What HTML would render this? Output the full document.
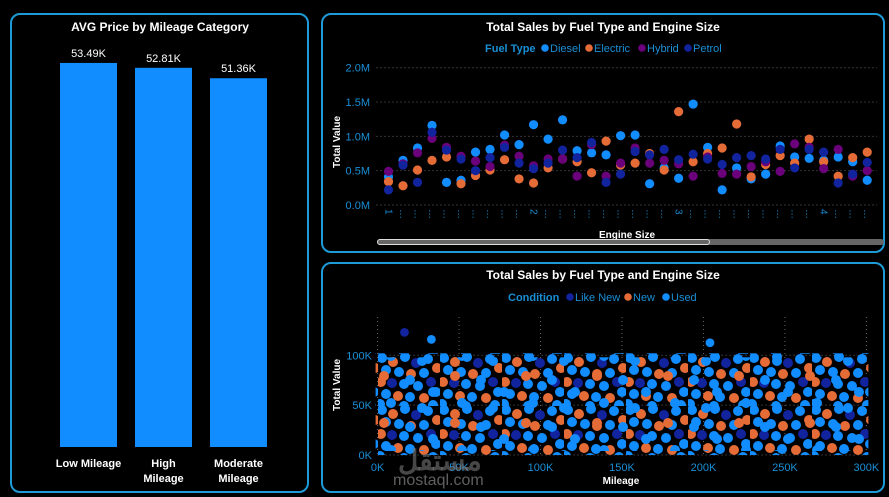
<!DOCTYPE html>
<html><head><meta charset="utf-8"><style>
html,body{margin:0;padding:0;background:#000;}
svg{display:block;font-family:"Liberation Sans","Noto Sans CJK SC",sans-serif;}
</style></head><body>
<svg id="root" width="889" height="497" viewBox="0 0 889 497">
<defs>
<pattern id="cloud" x="378" y="354" width="62" height="52" patternUnits="userSpaceOnUse">
<circle cx="4" cy="4" r="5" fill="#118DFF"/><circle cx="15" cy="8" r="5" fill="#E66C37"/>
<circle cx="27" cy="3" r="5" fill="#118DFF"/><circle cx="38" cy="9" r="5" fill="#12239E"/>
<circle cx="50" cy="5" r="5" fill="#118DFF"/><circle cx="59" cy="14" r="5" fill="#E66C37"/>
<circle cx="8" cy="16" r="5" fill="#118DFF"/><circle cx="21" cy="18" r="5" fill="#118DFF"/>
<circle cx="33" cy="20" r="5" fill="#E66C37"/><circle cx="46" cy="19" r="5" fill="#118DFF"/>
<circle cx="3" cy="28" r="5" fill="#E66C37"/><circle cx="14" cy="29" r="5" fill="#12239E"/>
<circle cx="26" cy="30" r="5" fill="#118DFF"/><circle cx="40" cy="32" r="5" fill="#118DFF"/>
<circle cx="53" cy="28" r="5" fill="#12239E"/><circle cx="58" cy="38" r="5" fill="#118DFF"/>
<circle cx="8" cy="40" r="5" fill="#118DFF"/><circle cx="20" cy="42" r="5" fill="#E66C37"/>
<circle cx="32" cy="43" r="5" fill="#118DFF"/><circle cx="46" cy="44" r="5" fill="#E66C37"/>
<circle cx="2" cy="50" r="5" fill="#118DFF"/><circle cx="26" cy="52" r="5" fill="#118DFF"/>
<circle cx="55" cy="51" r="5" fill="#118DFF"/>
</pattern>
<pattern id="cloud2" x="400" y="370" width="71" height="47" patternUnits="userSpaceOnUse">
<circle cx="10" cy="10" r="5" fill="#118DFF"/><circle cx="33" cy="22" r="5" fill="#118DFF"/>
<circle cx="55" cy="6" r="5" fill="#E66C37"/><circle cx="22" cy="38" r="5" fill="#118DFF"/>
<circle cx="62" cy="33" r="5" fill="#118DFF"/>
</pattern>
</defs>
<g id="panels">
<rect x="11" y="14" width="297" height="478" rx="9" fill="#000" stroke="#1E9BD7" stroke-width="2"/>
<rect x="322" y="14" width="562" height="238" rx="9" fill="#000" stroke="#1E9BD7" stroke-width="2"/>
<rect x="322" y="263" width="562" height="229" rx="9" fill="#000" stroke="#1E9BD7" stroke-width="2"/>
</g>
<text x="160" y="31" fill="#fff" font-size="12" font-weight="bold" text-anchor="middle">AVG Price by Mileage Category</text>
<g id="bars"></g>
<text x="603" y="31" fill="#fff" font-size="12" font-weight="bold" text-anchor="middle">Total Sales by Fuel Type and Engine Size</text>
<g id="legend1"></g>
<g id="scatter1"></g>
<text x="603" y="279" fill="#fff" font-size="12" font-weight="bold" text-anchor="middle">Total Sales by Fuel Type and Engine Size</text>
<g id="legend2"></g>
<g id="scatter2"></g>
<text x="398" y="470" fill="#777" fill-opacity="0.6" font-size="28" font-weight="bold">مستقل</text>
<text x="393" y="485" fill="#888" fill-opacity="0.7" font-size="16">mostaql.com</text>
</svg>
<script>
const NS='http://www.w3.org/2000/svg';
function mk(tag,attrs,parent,txt){const e=document.createElementNS(NS,tag);for(const k in attrs)e.setAttribute(k,attrs[k]);if(txt!==undefined)e.textContent=txt;parent.appendChild(e);return e;}

// ---- Bar chart data ----
const barCategories=[["Low Mileage"],["High","Mileage"],["Moderate","Mileage"]];
const barValues=[53.49,52.81,51.36];
const barLabels=["53.49K","52.81K","51.36K"];

// ---- Fuel scatter data ----
const engineSizes=[1.0,1.1,1.2,1.3,1.4,1.5,1.6,1.7,1.8,1.9,2.0,2.1,2.2,2.3,2.4,2.5,2.6,2.7,2.8,2.9,3.0,3.1,3.2,3.3,3.4,3.5,3.6,3.7,3.8,3.9,4.0,4.1,4.2,4.3];
const fuelTypes=["Diesel","Electric","Hybrid","Petrol"];
const dieselValues=[0.41,0.65,0.83,1.16,0.33,0.36,0.77,0.81,1.02,0.88,1.17,0.96,1.24,0.79,0.76,0.73,1.01,1.02,0.31,0.54,0.39,1.47,0.84,0.22,0.54,0.38,0.45,0.86,0.70,0.68,0.65,0.70,0.63,0.36];
const electricValues=[0.34,0.28,0.51,0.65,0.70,0.31,0.43,0.51,0.66,0.38,0.32,0.54,0.67,0.63,0.47,0.93,0.58,0.61,0.75,0.51,1.36,0.63,0.75,0.83,1.18,0.41,0.59,0.72,0.61,0.96,0.63,0.42,0.69,0.77];
const hybridValues=[0.49,0.60,0.76,0.97,0.84,0.71,0.64,0.56,0.87,0.71,0.57,0.67,0.67,0.42,0.88,0.42,0.61,0.83,0.61,0.65,0.60,0.42,0.70,0.46,0.45,0.56,0.63,0.49,0.89,0.84,0.53,0.81,0.42,0.50];
const petrolValues=[0.22,0.58,0.33,1.06,0.80,0.67,0.50,0.69,0.84,0.61,0.53,0.61,0.80,0.69,0.91,0.33,0.45,0.78,0.73,0.81,0.66,0.74,0.67,0.59,0.69,0.72,0.67,0.81,0.54,0.81,0.77,0.32,0.45,0.62];
const fuelYTicks=[0,0.5,1.0,1.5,2.0];
const fuelYTickLabels=["0.0M","0.5M","1.0M","1.5M","2.0M"];

// ---- Mileage scatter data ----
const conditions=["Like New","New","Used"];
const outlierMileage=[16.5,33,204];
const outlierValue=[123,116,112.6];
const outlierCondition=["Like New","Used","Used"];
const mileageXTicks=[0,50,100,150,200,250,300];
const mileageXTickLabels=["0K","50K","100K","150K","200K","250K","300K"];
const mileageYTicks=[0,50,100];
const mileageYTickLabels=["0K","50K","100K"];

const fuelColors={Diesel:"#118DFF",Electric:"#E66C37",Hybrid:"#6B007B",Petrol:"#12239E"};
const condColors={"Like New":"#12239E","New":"#E66C37","Used":"#118DFF"};
const axisBlue="#1A8FD6";

// ===== Bar chart =====
(function(){
  const g=document.getElementById('bars');
  const base=447, pxPerK=7.18, x0=60, step=75, w=57;
  const yB=v=>base-v*pxPerK;
  barValues.forEach((v,i)=>{
    const x=x0+i*step;
    const r=mk('rect',{x:x,y:yB(v),width:w,height:base-yB(v),fill:'#118DFF'},g);
    
    
    const t=mk('text',{x:x+w/2,y:yB(v)-6,fill:'#fff','font-size':11,'text-anchor':'middle'},g,barLabels[i]);
    
    
    barCategories[i].forEach((line,j)=>{
      const c=mk('text',{x:x+w/2,y:467+j*15,fill:'#fff','font-size':11,'font-weight':'bold','text-anchor':'middle'},g,line);
      
      
    });
  });
})();

// ===== Fuel scatter =====
(function(){
  const g=document.getElementById('scatter1');
  const xL=376.5,xR=877,y0=205,pxPerM=68.65,c0=388.5,cStep=14.506;
  const xS=i=>c0+i*cStep;
  const yS=v=>y0-v*pxPerM;
  fuelYTicks.forEach((t,i)=>{
    const l=mk('line',{x1:xL,x2:xR,y1:yS(t),y2:yS(t),stroke:'#666','stroke-dasharray':'1 3'},g);
    
    
    const tx=mk('text',{x:370,y:yS(t)+4,fill:axisBlue,'font-size':11,'text-anchor':'end'},g,fuelYTickLabels[i]);
    
    
  });
  engineSizes.forEach((s,i)=>{
    const whole=Math.abs(s-Math.round(s))<1e-6;
    const tx=mk('text',{x:0,y:0,fill:axisBlue,'font-size':10,transform:'translate('+(xS(i)-3)+','+(209)+') rotate(90)'},g,whole?String(Math.round(s)):'…');
    
    
  });
  const series=[["Diesel",dieselValues],["Electric",electricValues],["Hybrid",hybridValues],["Petrol",petrolValues]];
  series.forEach(([name,vals])=>{
    vals.forEach((v,i)=>{
      const c=mk('circle',{cx:xS(i),cy:yS(v),r:4.6,fill:fuelColors[name]},g);
      
      
    });
  });
  const at=mk('text',{x:0,y:0,fill:'#fff','font-size':10,'font-weight':'bold','text-anchor':'middle',transform:'translate(340,142) rotate(-90)'},g,'Total Value');
  
  
  const xt=mk('text',{x:627,y:238,fill:'#fff','font-size':10,'font-weight':'bold','text-anchor':'middle'},g,'Engine Size');
  
  
  const tr=mk('rect',{x:377,y:239,width:507,height:6,rx:3,fill:'#666'},g);
  
  
  const th=mk('rect',{x:377.5,y:239.5,width:332,height:5,rx:2.5,fill:'#666',stroke:'#ddd','stroke-width':1},g);
  
  
  const lg=document.getElementById('legend1');
  const lt=mk('text',{x:485,y:52,fill:axisBlue,'font-size':11,'font-weight':'bold'},lg,'Fuel Type');
  
  
  const lx=[545,589,642,688];
  fuelTypes.forEach((f,i)=>{
    const c=mk('circle',{cx:lx[i],cy:48,r:3.8,fill:fuelColors[f]},lg);
    
    
    const t=mk('text',{x:lx[i]+5,y:52,fill:axisBlue,'font-size':11},lg,f);
    
    
  });
})();

// ===== Mileage scatter =====
(function(){
  const g=document.getElementById('scatter2');
  const x0=377.6,x1=866.4,y0=455,pxPerK=0.997;
  const xS=m=>x0+m*(x1-x0)/300;
  const yS=v=>y0-v*pxPerK;
  mileageXTicks.forEach((t,i)=>{
    const l=mk('line',{x1:xS(t),x2:xS(t),y1:317,y2:y0,stroke:'#666','stroke-dasharray':'1 3'},g);
    
    
    const tx=mk('text',{x:xS(t),y:471,fill:axisBlue,'font-size':11,'text-anchor':'middle'},g,mileageXTickLabels[i]);
    
    
  });
  mileageYTicks.forEach((t,i)=>{
    const l=mk('line',{x1:x0,x2:x1,y1:yS(t),y2:yS(t),stroke:'#666','stroke-dasharray':'1 3'},g);
    
    
    const tx=mk('text',{x:372,y:yS(t)+4,fill:axisBlue,'font-size':11,'text-anchor':'end'},g,mileageYTickLabels[i]);
    
    
  });
  const cl=mk('rect',{x:x0-2,y:yS(100)-2,width:x1-x0+4,height:yS(2)-yS(100)+4,fill:'url(#cloud)'},g);
  
  
  const cl2=mk('rect',{x:x0,y:yS(98),width:x1-x0,height:yS(4)-yS(98),fill:'url(#cloud2)'},g);
  
  
  outlierMileage.forEach((m,i)=>{
    const c=mk('circle',{cx:xS(m),cy:yS(outlierValue[i]),r:4.4,fill:condColors[outlierCondition[i]]},g);
    
    
  });
  const at=mk('text',{x:0,y:0,fill:'#fff','font-size':10,'font-weight':'bold','text-anchor':'middle',transform:'translate(340,385) rotate(-90)'},g,'Total Value');
  
  
  const xt=mk('text',{x:621,y:484,fill:'#fff','font-size':10,'font-weight':'bold','text-anchor':'middle'},g,'Mileage');
  
  
  const lg=document.getElementById('legend2');
  const lt=mk('text',{x:508,y:301,fill:axisBlue,'font-size':11,'font-weight':'bold'},lg,'Condition');
  
  
  const lx=[570,628,666];
  conditions.forEach((f,i)=>{
    const c=mk('circle',{cx:lx[i],cy:297,r:3.8,fill:condColors[f]},lg);
    
    
    const t=mk('text',{x:lx[i]+5,y:301,fill:axisBlue,'font-size':11},lg,f);
    
    
  });
})();
</script>
</body></html>
